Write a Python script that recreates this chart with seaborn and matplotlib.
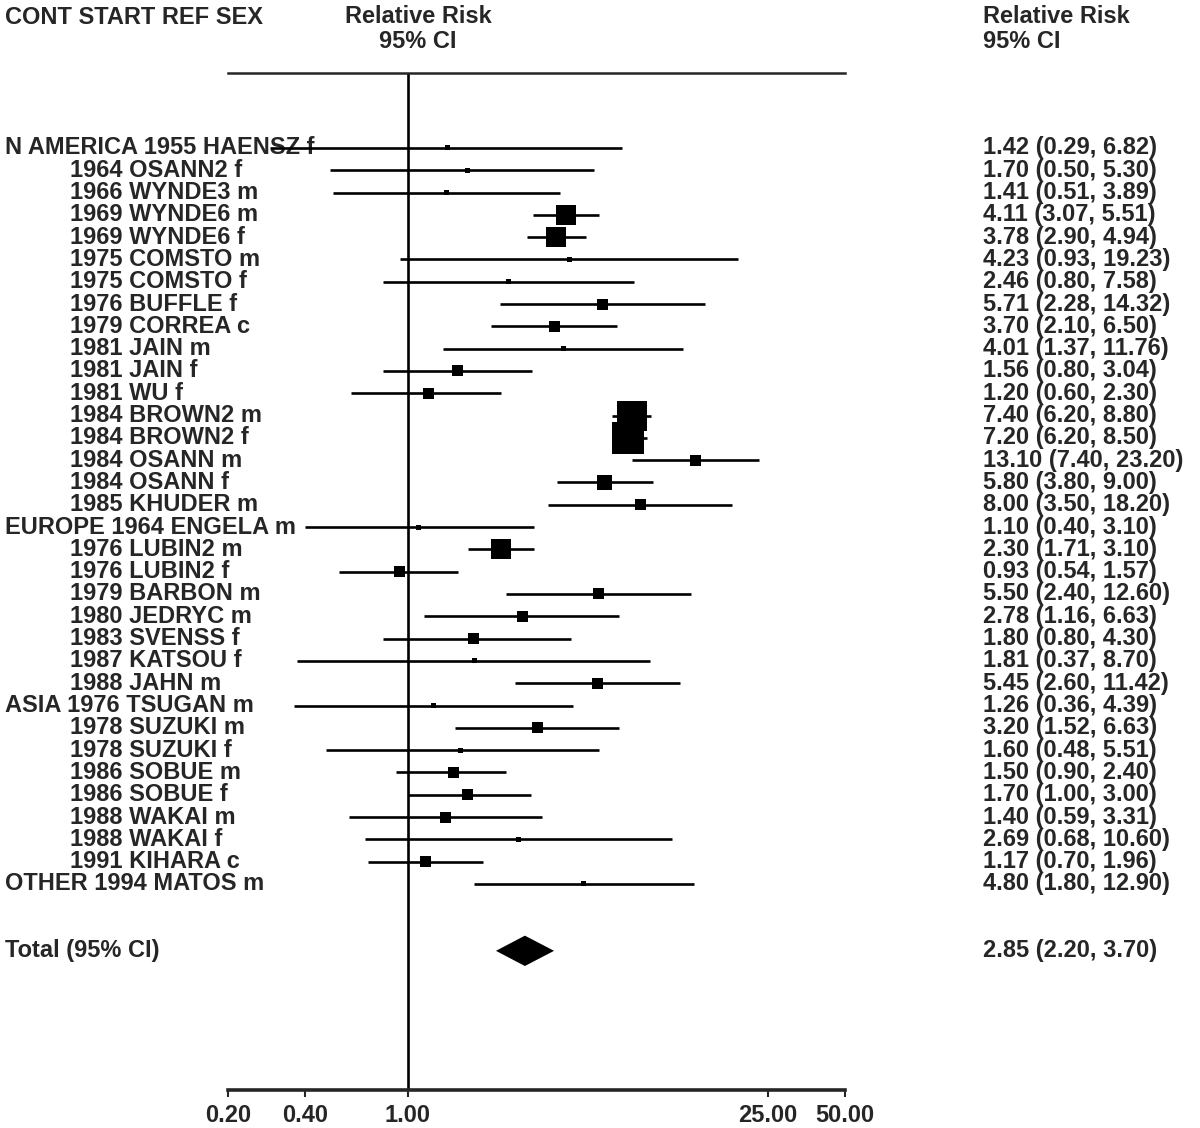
import matplotlib
matplotlib.use("Agg")
import matplotlib.pyplot as plt
import matplotlib.transforms as mtransforms
import numpy as np
import pandas as pd
import seaborn as sns

# study rows of the forest plot
cont = ["N AMERICA", "", "", "", "", "", "", "", "", "", "", "", "", "", "", "", "",
        "EUROPE", "", "", "", "", "", "", "",
        "ASIA", "", "", "", "", "", "", "",
        "OTHER"]
study = ["1955 HAENSZ f", "1964 OSANN2 f", "1966 WYNDE3 m", "1969 WYNDE6 m", "1969 WYNDE6 f",
         "1975 COMSTO m", "1975 COMSTO f", "1976 BUFFLE f", "1979 CORREA c", "1981 JAIN m",
         "1981 JAIN f", "1981 WU f", "1984 BROWN2 m", "1984 BROWN2 f", "1984 OSANN m",
         "1984 OSANN f", "1985 KHUDER m",
         "1964 ENGELA m", "1976 LUBIN2 m", "1976 LUBIN2 f", "1979 BARBON m", "1980 JEDRYC m",
         "1983 SVENSS f", "1987 KATSOU f", "1988 JAHN m",
         "1976 TSUGAN m", "1978 SUZUKI m", "1978 SUZUKI f", "1986 SOBUE m", "1986 SOBUE f",
         "1988 WAKAI m", "1988 WAKAI f", "1991 KIHARA c",
         "1994 MATOS m"]
rr = [1.42, 1.70, 1.41, 4.11, 3.78, 4.23, 2.46, 5.71, 3.70, 4.01, 1.56, 1.20, 7.40, 7.20,
      13.10, 5.80, 8.00, 1.10, 2.30, 0.93, 5.50, 2.78, 1.80, 1.81, 5.45, 1.26, 3.20, 1.60,
      1.50, 1.70, 1.40, 2.69, 1.17, 4.80]
lo = [0.29, 0.50, 0.51, 3.07, 2.90, 0.93, 0.80, 2.28, 2.10, 1.37, 0.80, 0.60, 6.20, 6.20,
      7.40, 3.80, 3.50, 0.40, 1.71, 0.54, 2.40, 1.16, 0.80, 0.37, 2.60, 0.36, 1.52, 0.48,
      0.90, 1.00, 0.59, 0.68, 0.70, 1.80]
hi = [6.82, 5.30, 3.89, 5.51, 4.94, 19.23, 7.58, 14.32, 6.50, 11.76, 3.04, 2.30, 8.80, 8.50,
      23.20, 9.00, 18.20, 3.10, 3.10, 1.57, 12.60, 6.63, 4.30, 8.70, 11.42, 4.39, 6.63, 5.51,
      2.40, 3.00, 3.31, 10.60, 1.96, 12.90]
# relative weight of each study (drawn as box size)
weight = [5, 5, 5, 20, 20, 5, 5, 11, 11, 5, 11, 11, 30, 32, 11, 15, 11,
          5, 20, 11, 11, 11, 11, 5, 11,
          5, 11, 5, 11, 11, 11, 5, 11,
          5]
total_rr, total_lo, total_hi = 2.85, 2.20, 3.70
xticks = [0.2, 0.4, 1.0, 25.0, 50.0]
xticklabels = ["0.20", "0.40", "1.00", "25.00", "50.00"]

df = pd.DataFrame({"rr": rr, "lo": lo, "hi": hi, "w": weight})
df["row"] = np.arange(len(df))
total_row = len(df) + 2

sns.set_style("white")
plt.rcParams["font.family"] = ["Liberation Sans", "DejaVu Sans"]
plt.rcParams["font.weight"] = "bold"
fs = 17

fig = plt.figure(figsize=(12, 11.28), dpi=100)
ax = fig.add_axes([228 / 1200, 1 - 1090 / 1128, 617 / 1200, (1090 - 73) / 1128])
ax.set_xscale("log")
ax.set_xlim(0.2, 50)
ax.set_ylim(42.24, -3.36)

# confidence intervals
ax.hlines(df["row"], df["lo"], df["hi"], color="black", lw=1.9, zorder=3, clip_on=False)
# study boxes
sizes = {w: (0.72 * w) ** 2 for w in sorted(set(weight))}
sns.scatterplot(data=df, x="rr", y="row", size="w", sizes=sizes, marker="s",
                color="black", linewidth=0, legend=False, ax=ax, zorder=4, clip_on=False)
# pooled estimate diamond
ax.fill([total_lo, total_rr, total_hi, total_rr],
        [total_row, total_row - 0.68, total_row, total_row + 0.68],
        color="black", lw=0, zorder=4)
ax.axvline(1.0, color="black", lw=1.9, zorder=2)

for s in ["left", "right"]:
    ax.spines[s].set_visible(False)
ax.spines["top"].set_linewidth(1.8)
ax.spines["bottom"].set_linewidth(2.6)
ax.set_yticks([])
ax.set_xticks(xticks)
ax.set_xticklabels(xticklabels)
ax.xaxis.set_minor_locator(matplotlib.ticker.NullLocator())
ax.tick_params(axis="x", direction="out", length=5, width=1.5, pad=5, labelsize=fs,
               bottom=True)
for t in ax.get_xticklabels():
    t.set_fontweight("bold")
ax.set_xlabel("")
ax.set_ylabel("")

trans = mtransforms.blended_transform_factory(fig.transFigure, ax.transData)
for i in range(len(df)):
    if cont[i]:
        ax.text(5 / 1200, i, cont[i] + " " + study[i], transform=trans, fontsize=fs,
                ha="left", va="center", fontweight="bold", zorder=1, clip_on=False)
    else:
        ax.text(70 / 1200, i, study[i], transform=trans, fontsize=fs,
                ha="left", va="center", fontweight="bold", zorder=1, clip_on=False)
    ax.text(983 / 1200, i, f"{rr[i]:.2f} ({lo[i]:.2f}, {hi[i]:.2f})", transform=trans,
            fontsize=fs, ha="left", va="center", fontweight="bold", clip_on=False)

ax.text(5 / 1200, total_row, "Total (95% CI)", transform=trans, fontsize=fs,
        ha="left", va="center", fontweight="bold", clip_on=False)
ax.text(983 / 1200, total_row, f"{total_rr:.2f} ({total_lo:.2f}, {total_hi:.2f})",
        transform=trans, fontsize=fs, ha="left", va="center", fontweight="bold", clip_on=False)

# column headers
fig.text(5 / 1200, 1 - 17 / 1128, "CONT START REF SEX", fontsize=fs, ha="left",
         va="center", fontweight="bold")
fig.text(418 / 1200, 1 - 29 / 1128, "Relative Risk\n95% CI", fontsize=fs, ha="center",
         va="center", fontweight="bold", linespacing=1.1)
fig.text(983 / 1200, 1 - 29 / 1128, "Relative Risk\n95% CI", fontsize=fs, ha="left",
         va="center", fontweight="bold", linespacing=1.1)

fig.savefig("out.png", dpi=100, facecolor="white")
